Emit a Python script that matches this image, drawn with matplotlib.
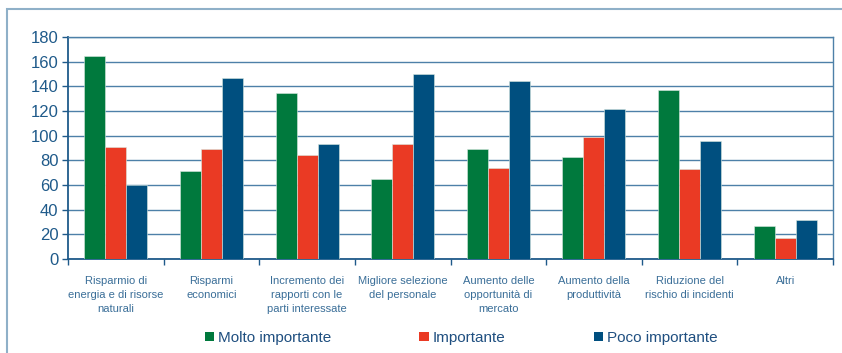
import matplotlib
matplotlib.use("Agg")
import matplotlib.pyplot as plt
import numpy as np
from matplotlib.patches import Rectangle, Patch

categories = ["Risparmio di\nenergia e di risorse\nnaturali", "Risparmi\neconomici",
              "Incremento dei\nrapporti con le\nparti interessate", "Migliore selezione\ndel personale",
              "Aumento delle\nopportunità di\nmercato", "Aumento della\nproduttività",
              "Riduzione del\nrischio di incidenti", "Altri"]
molto = [165, 71, 135, 65, 89, 83, 137, 27]
importante = [91, 89, 84, 93, 74, 99, 73, 17]
poco = [60, 147, 93, 150, 144, 122, 96, 32]
series_names = ["Molto importante", "Importante", "Poco importante"]
colors = ["#00793d", "#ea3a24", "#004f7f"]

W, H = 842, 353
fig = plt.figure(figsize=(W/100, H/100), dpi=100)
plt.rcParams['font.family'] = ['Liberation Sans', 'DejaVu Sans']

# outer frame
fig.patches.append(Rectangle((7/W, -0.1), 1.2, (H-9)/H + 0.1, transform=fig.transFigure,
                             fill=False, edgecolor="#8fb0c8", linewidth=1.5))

ax = fig.add_axes([68/W, (H-259)/H, (833-68)/W, (259-37)/H])
x = np.arange(len(categories))
bw = 0.22
for i, (vals, c) in enumerate(zip([molto, importante, poco], colors)):
    ax.bar(x + (i-1)*bw, vals, bw, color=c, edgecolor="#d8e8e0", linewidth=0.4, zorder=3)

ax.set_xlim(-0.5, len(categories)-0.5)
ax.set_ylim(0, 180)
ax.set_yticks(np.arange(0, 181, 20))
ax.yaxis.grid(True, color="#4d80a8", linewidth=1.0, zorder=0)
ax.tick_params(axis='y', labelsize=12, labelcolor="#1f5a8a", color="#1f5a8a", length=4, width=1, pad=3)
ax.set_xticks(np.arange(-0.5, len(categories), 1.0))
ax.set_xticklabels([])
ax.tick_params(axis='x', color="#1f5a8a", length=4, width=1)
for s in ["left", "bottom"]:
    ax.spines[s].set_color("#1f5a8a")
    ax.spines[s].set_linewidth(1.3)
for s in ["top", "right"]:
    ax.spines[s].set_color("#4d80a8")
    ax.spines[s].set_linewidth(1.0)

for xi, lab in zip(x, categories):
    ax.text(xi, -13.5, lab, ha="center", va="top", fontsize=8, color="#3a6e98",
            linespacing=1.5, transform=ax.transData, family=['Liberation Sans Narrow', 'Liberation Sans', 'DejaVu Sans'])

handles = [Patch(facecolor=c, edgecolor="none") for c in colors]
fig.legend(handles, series_names, loc="center", bbox_to_anchor=(461/W, 1-338/H), ncol=3,
           frameon=False, fontsize=11, labelcolor="#1f4f80", handlelength=0.6, handleheight=0.6,
           handletextpad=0.25, columnspacing=5.8)

fig.savefig("out.png", dpi=100)
